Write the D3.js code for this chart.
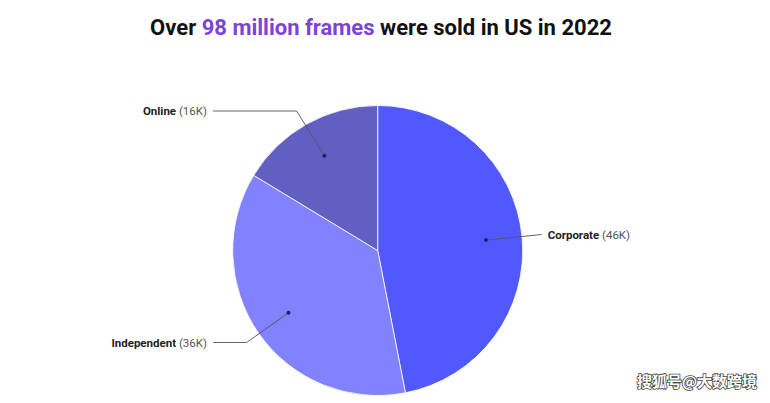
<!DOCTYPE html>
<html><head><meta charset="utf-8">
<script src="https://cdn.jsdelivr.net/npm/d3@7"></script>
<style>body{margin:0;background:#fff}svg{display:block}</style>
</head><body>
<script>
const categories = ["Corporate", "Independent", "Online"];
const values = [46, 36, 16];
const valueLabels = ["46K", "36K", "16K"];
const colors = ["#5058fe", "#8281fe", "#6160c2"];
const titleParts = [["Over ", "#111"], ["98 million frames", "#7b44d8"], [" were sold in US in 2022", "#111"]];
const watermark = "搜狐号@大数跨境";

const W = 770, H = 403;
const cx = 377.7, cy = 250.5, R = 145;
const svg = d3.select("body").append("svg").attr("width", W).attr("height", H);

const title = svg.append("text").attr("x", 381).attr("y", 35)
  .attr("text-anchor", "middle").style("font-family", "Roboto").style("font-weight", 700).style("font-size", "22px");
titleParts.forEach(([t, c]) => title.append("tspan").attr("fill", c).text(t));

const data = categories.map((c, i) => ({ cat: c, value: values[i], label: valueLabels[i], color: colors[i] }));
const pie = d3.pie().value(d => d.value).sort(null);
const arcs = pie(data);
const arc = d3.arc().innerRadius(0).outerRadius(R);
const g = svg.append("g").attr("transform", `translate(${cx},${cy})`);
g.selectAll("path").data(arcs).join("path").attr("d", arc).attr("fill", d => d.data.color)
  .attr("stroke", "#fff").attr("stroke-width", 0.8);

const labelArc = d3.arc().innerRadius(R * 0.75).outerRadius(R * 0.75);
const layout = {
  Corporate: { elbow: null, end: [541.7, 234.5], side: "right" },
  Independent: { elbow: [246.7, 342.5], end: [213, 342.5], side: "left" },
  Online: { elbow: [296.7, 111], end: [213, 111], side: "left" }
};
arcs.forEach(a => {
  const [px, py] = labelArc.centroid(a);
  const dx = cx + px, dy = cy + py;
  const L = layout[a.data.cat];
  const pts = [[dx, dy]];
  if (L.elbow) pts.push(L.elbow);
  pts.push(L.end);
  svg.append("path").attr("d", d3.line()(pts)).attr("fill", "none").attr("stroke", "#555").attr("stroke-width", 0.9);
  svg.append("circle").attr("cx", dx).attr("cy", dy).attr("r", 2).attr("fill", "#1f1f6e");
  const tx = L.side === "right" ? L.end[0] + 6 : L.end[0] - 6;
  const t = svg.append("text").attr("x", tx).attr("y", L.end[1]).attr("dy", "0.35em")
    .attr("text-anchor", L.side === "right" ? "start" : "end")
    .style("font-family", "Roboto").style("font-size", "11.5px").attr("fill", "#222");
  t.append("tspan").style("font-weight", 700).text(a.data.cat);
  t.append("tspan").attr("fill", "#555").text(" (" + a.data.label + ")");
});

svg.append("text").attr("x", 757).attr("y", 382).attr("dy", "0.35em").attr("text-anchor", "end")
  .style("font-family", "Noto Sans CJK SC").style("font-size", "15px").style("font-weight", 700)
  .attr("fill", "#fff").attr("stroke", "#444").attr("stroke-width", 1.6).attr("paint-order", "stroke")
  .text(watermark);
</script>
</body></html>
